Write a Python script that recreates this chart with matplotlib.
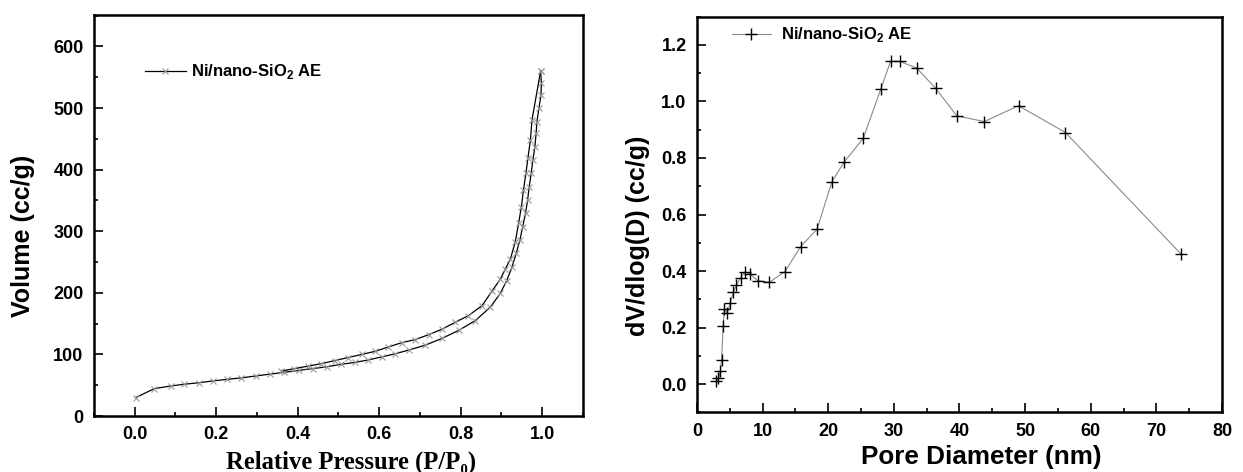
import matplotlib
matplotlib.use("Agg")
import matplotlib.pyplot as plt
from matplotlib.ticker import MultipleLocator

plt.rcParams['font.family'] = ['Liberation Sans', 'DejaVu Sans']
plt.rcParams['mathtext.fontset'] = 'custom'
plt.rcParams['mathtext.rm'] = 'Liberation Sans:bold'
plt.rcParams['mathtext.bf'] = 'Liberation Sans:bold'

# N2 isotherm, adsorption branch (lower)
ads_p = [0.002, 0.048, 0.089, 0.12, 0.157, 0.192, 0.227, 0.262, 0.297, 0.332, 0.367,
         0.402, 0.437, 0.472, 0.507, 0.54, 0.573, 0.606, 0.639, 0.672, 0.713, 0.754,
         0.795, 0.836, 0.873, 0.897, 0.913, 0.926, 0.936, 0.945, 0.952, 0.959, 0.964,
         0.968, 0.973, 0.977, 0.982, 0.985, 0.987, 0.992, 0.997, 0.998, 0.996]
ads_v = [29.7, 44.5, 48.8, 51.5, 54, 57, 59.5, 62, 65, 68, 71,
         74, 77, 80, 84, 87, 91, 96, 101, 107, 115, 126,
         139, 155, 177, 199, 220, 242, 264, 285, 307, 329, 350,
         372, 394, 415, 437, 459, 478, 500, 521, 540, 560]

# desorption branch (upper)
des_p = [0.996, 0.975, 0.971, 0.965, 0.960, 0.954, 0.949, 0.942, 0.934, 0.922, 0.909,
         0.897, 0.877, 0.852, 0.819, 0.786, 0.754, 0.721, 0.688, 0.655, 0.622, 0.59,
         0.557, 0.524, 0.491, 0.458, 0.425, 0.392, 0.36]
des_v = [560, 481, 448, 419, 394, 367, 340, 313, 283, 255, 238,
         222, 203, 179, 163, 152, 141, 132, 124, 119, 112, 105,
         100, 95, 90, 85, 81, 77, 73]

# pore size distribution
pore_d = [2.86, 3.27, 3.57, 3.75, 3.99, 4.17, 4.65, 5.06, 5.54, 6.02, 6.67, 7.33, 8.04,
          9.24, 11.02, 13.41, 15.79, 18.3, 20.56, 22.47, 25.33, 28.0, 29.5, 30.88,
          33.5, 36.36, 39.6, 43.8, 49.0, 56.15, 73.8]
dv_dlogd = [0.009, 0.02, 0.045, 0.086, 0.204, 0.265, 0.252, 0.287, 0.325, 0.351, 0.377,
            0.397, 0.391, 0.366, 0.36, 0.398, 0.486, 0.548, 0.716, 0.787, 0.869, 1.043,
            1.142, 1.142, 1.118, 1.047, 0.949, 0.929, 0.985, 0.89, 0.459]

label = r'Ni/nano-SiO$_{\mathbf{2}}$ AE'

fig = plt.figure(figsize=(12.43, 4.72), dpi=100)
ax1 = fig.add_axes([0.0756, 0.1186, 0.3934, 0.8496])
ax2 = fig.add_axes([0.5607, 0.1265, 0.4224, 0.8381])


def style_axes(ax):
    for sp in ax.spines.values():
        sp.set_linewidth(1.8)
    ax.tick_params(which='both', direction='in', top=False, right=False, width=1.2,
                   labelsize=13, pad=7.5)
    ax.tick_params(which='major', length=6.5)
    ax.tick_params(which='minor', length=3)
    for t in ax.get_xticklabels() + ax.get_yticklabels():
        t.set_fontweight('bold')


# left: isotherm
ax1.plot(ads_p, ads_v, color='black', lw=0.9, marker='x', ms=5, mew=0.8,
         mec='#9a9a9a', label=label)
ax1.plot(des_p, des_v, color='black', lw=0.9, marker='x', ms=5, mew=0.8,
         mec='#9a9a9a')
ax1.set_xlim(-0.1, 1.1)
ax1.set_ylim(0, 651)
ax1.xaxis.set_minor_locator(MultipleLocator(0.1))
ax1.yaxis.set_major_locator(MultipleLocator(100))
ax1.yaxis.set_minor_locator(MultipleLocator(50))
ax1.set_xticks([0.0, 0.2, 0.4, 0.6, 0.8, 1.0])
ax1.set_xticklabels(['0.0', '0.2', '0.4', '0.6', '0.8', '1.0'])
style_axes(ax1)
ax1.set_ylabel('Volume (cc/g)', fontsize=18, fontweight='bold')
ax1.yaxis.set_label_coords(-0.121, 0.449)
ax1.set_xlabel('Relative Pressure (P/P\u2080)', fontsize=17.7, fontweight='bold',
               family=['Liberation Serif', 'DejaVu Serif'])
ax1.xaxis.set_label_coords(0.525, -0.085)
ax1.legend(loc='center left', bbox_to_anchor=(0.104, 0.858), frameon=False,
           borderpad=0, borderaxespad=0, handlelength=2.46, handletextpad=0.34,
           numpoints=1, prop={'size': 12, 'weight': 'bold'})

# right: pore size distribution
ax2.plot(pore_d, dv_dlogd, color='#8a8a8a', lw=0.8, marker='+', ms=8, mew=1.0,
         mec='black', label=label)
ax2.set_xlim(0, 80)
ax2.set_ylim(-0.1, 1.3)
ax2.xaxis.set_major_locator(MultipleLocator(10))
ax2.xaxis.set_minor_locator(MultipleLocator(5))
ax2.set_yticks([0.0, 0.2, 0.4, 0.6, 0.8, 1.0, 1.2])
ax2.set_yticklabels(['0.0', '0.2', '0.4', '0.6', '0.8', '1.0', '1.2'])
ax2.yaxis.set_minor_locator(MultipleLocator(0.1))
style_axes(ax2)
ax2.set_ylabel('dV/dlog(D) (cc/g)', fontsize=18, fontweight='bold')
ax2.yaxis.set_label_coords(-0.0895, 0.446)
ax2.set_xlabel('Pore Diameter (nm)', fontsize=18.8, fontweight='bold')
ax2.xaxis.set_label_coords(0.541, -0.083)
ax2.legend(loc='center left', bbox_to_anchor=(0.066, 0.954), frameon=False,
           borderpad=0, borderaxespad=0, handlelength=2.35, handletextpad=0.6,
           numpoints=1, prop={'size': 12, 'weight': 'bold'})

fig.savefig('out.png', dpi=100)
